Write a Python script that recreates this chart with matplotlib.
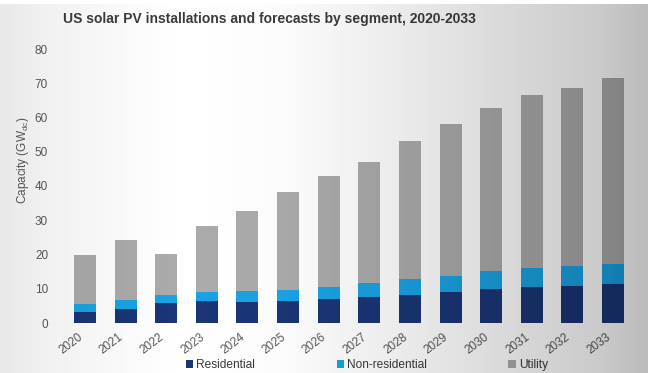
import matplotlib
matplotlib.use("Agg")
import matplotlib.pyplot as plt
import numpy as np

years = ['2020', '2021', '2022', '2023', '2024', '2025', '2026',
         '2027', '2028', '2029', '2030', '2031', '2032', '2033']
residential = [3.1, 4.1, 5.8, 6.3, 6.1, 6.4, 7.0, 7.5, 8.3, 9.1, 9.8, 10.5, 10.8, 11.3]
non_residential = [2.5, 2.7, 2.5, 2.8, 3.3, 3.2, 3.4, 4.1, 4.5, 4.7, 5.3, 5.5, 5.7, 5.8]
utility = [14.3, 17.3, 11.9, 19.3, 23.3, 28.7, 32.6, 35.5, 40.2, 44.2, 47.8, 50.7, 52.2, 54.5]

plt.rcParams['font.family'] = ['Liberation Sans', 'DejaVu Sans']

W, H = 648, 373
fig = plt.figure(figsize=(W / 100, H / 100), dpi=100)
fig.patch.set_facecolor('white')

ax = fig.add_axes([60.6 / W, 1 - 323 / H, 576.8 / W, 274 / H])
ax.set_facecolor('none')

x = np.arange(len(years))
res = np.array(residential)
nres = np.array(non_residential)
util = np.array(utility)
w = 0.54
ax.bar(x, res, w, color='#1a3676', label='Residential')
ax.bar(x, nres, w, bottom=res, color='#1aa3e4', label='Non-residential')
ax.bar(x, util, w, bottom=res + nres, color='#ababab', label='Utility')

ax.set_xlim(-0.6, 13.6)
ax.set_ylim(0, 80)
ax.set_yticks(range(0, 81, 10))
ax.set_xticks(x)
ax.set_xticklabels(years, rotation=37, ha='right')
for s in ax.spines.values():
    s.set_visible(False)
ax.tick_params(axis='both', length=0, colors='#5a5a5a', labelsize=8.5)
ax.tick_params(axis='y', pad=9)
ax.tick_params(axis='x', pad=6)

fig.text(23 / W, 1 - 160 / H, 'Capacity (GW$_{\\mathregular{dc}}$)', rotation=90,
         ha='center', va='center', fontsize=8.5, color='#5a5a5a')

fig.text(63 / W, 1 - 19 / H, 'US solar PV installations and forecasts by segment, 2020-2033',
         ha='left', va='center', fontsize=10, fontweight='bold', color='#3c3c3c')

fig.legend(loc='center', bbox_to_anchor=(367 / W, 1 - 365 / H), ncol=3, frameon=False,
           fontsize=8.6, handlelength=0.6, handleheight=0.6, handletextpad=0.3,
           columnspacing=6.8, labelcolor='#3a3a3a')

# vignette overlay: darker towards the right, light in the middle-left
xs = np.arange(W)
v = np.interp(xs, [0, 60, 180, 280, 400, 520, 600, 648],
              [0.91, 0.95, 1.0, 0.985, 0.92, 0.84, 0.79, 0.73])
alpha = np.tile(1 - v, (H, 1))
alpha[:4, :] = 0
overlay = np.zeros((H, W, 4))
overlay[..., 3] = alpha
ov = fig.add_axes([0, 0, 1, 1], zorder=10)
ov.imshow(overlay, extent=(0, W, H, 0), aspect='auto', interpolation='bilinear')
ov.set_xlim(0, W)
ov.set_ylim(H, 0)
ov.axis('off')
ov.patch.set_visible(False)

fig.savefig('out.png', dpi=100)
